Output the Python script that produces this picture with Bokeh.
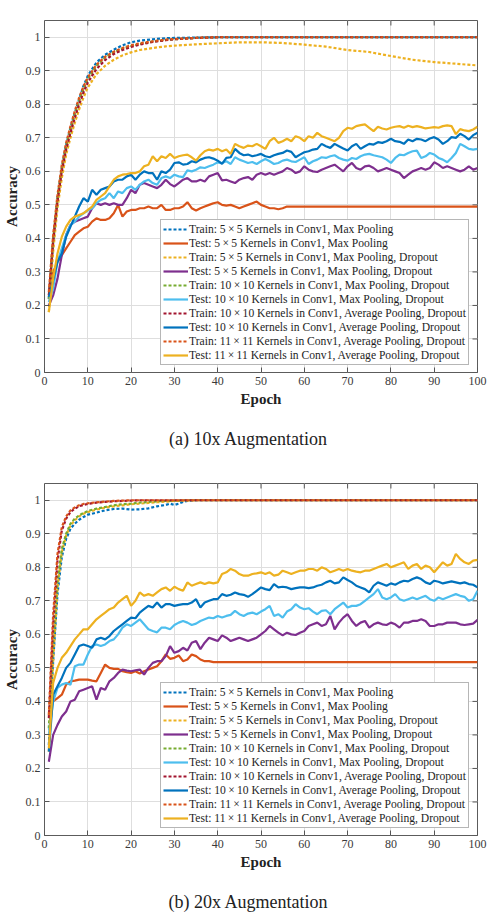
from bokeh.plotting import figure
from bokeh.models import (Range1d, FixedTicker, Legend, LegendItem, Label,
                          CustomJSTickFormatter)
from bokeh.layouts import column
from bokeh.embed import file_html
from bokeh.resources import INLINE

FONT = "Liberation Serif"

# ---- shared series definitions -------------------------------------------
EPOCHS = list(range(1, 101))
X_TICKS = [0, 10, 20, 30, 40, 50, 60, 70, 80, 90, 100]
Y_TICKS = [0, 0.1, 0.2, 0.3, 0.4, 0.5, 0.6, 0.7, 0.8, 0.9, 1]
X_MIN, X_MAX = 0, 100
Y_MIN, Y_MAX = 0, 1.05

TRAIN_LABELS = [
    "Train: 5\u2009\u00d7\u20095 Kernels in Conv1, Max Pooling",
    "Train: 5\u2009\u00d7\u20095 Kernels in Conv1, Max Pooling, Dropout",
    "Train: 10\u2009\u00d7\u200910 Kernels in Conv1, Max Pooling, Dropout",
    "Train: 10\u2009\u00d7\u200910 Kernels in Conv1, Average Pooling, Dropout",
    "Train: 11\u2009\u00d7\u200911 Kernels in Conv1, Average Pooling, Dropout",
]
TEST_LABELS = [
    "Test: 5\u2009\u00d7\u20095 Kernels in Conv1, Max Pooling",
    "Test: 5\u2009\u00d7\u20095 Kernels in Conv1, Max Pooling, Dropout",
    "Test: 10\u2009\u00d7\u200910 Kernels in Conv1, Max Pooling, Dropout",
    "Test: 10\u2009\u00d7\u200910 Kernels in Conv1, Average Pooling, Dropout",
    "Test: 11\u2009\u00d7\u200911 Kernels in Conv1, Average Pooling, Dropout",
]
TRAIN_COLORS = ["#0072BD", "#EDB120", "#77AC30", "#A2142F", "#D95319"]
TEST_COLORS = ["#D95319", "#7E2F8E", "#4DBEEE", "#0072BD", "#EDB120"]
CAPTIONS = ["(a) 10x Augmentation", "(b) 20x Augmentation"]

# ---- (a) 10x augmentation ---------------------------------------------------
TRAIN_EPOCHS_A = [1, 2, 3, 4, 5, 6, 7, 8, 9, 10, 12, 14, 16, 18, 20, 22, 25, 28,
                  30, 35, 40, 45, 50, 55, 60, 65, 70, 75, 80, 85, 90, 95, 100]

A_TRAIN_5MP = [0.22, 0.39, 0.52, 0.61, 0.68, 0.73, 0.775, 0.815, 0.855, 0.885,
               0.925, 0.948, 0.963, 0.976, 0.985, 0.99, 0.994, 0.997, 0.998, 0.999,
               1.0, 1.0, 1.0, 1.0, 1.0, 1.0, 1.0, 1.0, 1.0, 1.0, 1.0, 1.0, 1.0]
A_TRAIN_5MPD = [0.18, 0.36, 0.49, 0.58, 0.65, 0.70, 0.745, 0.785, 0.82, 0.85,
                0.89, 0.915, 0.933, 0.946, 0.955, 0.962, 0.968, 0.973, 0.975, 0.979,
                0.982, 0.985, 0.985, 0.983, 0.978, 0.972, 0.962, 0.956, 0.944, 0.933,
                0.926, 0.921, 0.916]
A_TRAIN_10MPD = [0.22, 0.40, 0.52, 0.61, 0.675, 0.725, 0.77, 0.81, 0.845, 0.875,
                 0.915, 0.94, 0.955, 0.966, 0.974, 0.98, 0.987, 0.992, 0.994, 0.998,
                 1.0, 1.0, 1.0, 1.0, 1.0, 1.0, 1.0, 1.0, 1.0, 1.0, 1.0, 1.0, 1.0]
A_TRAIN_10APD = [0.23, 0.39, 0.51, 0.60, 0.665, 0.715, 0.76, 0.80, 0.835, 0.865,
                 0.905, 0.932, 0.95, 0.962, 0.971, 0.978, 0.986, 0.991, 0.994, 0.998,
                 1.0, 1.0, 1.0, 1.0, 1.0, 1.0, 1.0, 1.0, 1.0, 1.0, 1.0, 1.0, 1.0]
A_TRAIN_11APD = [0.24, 0.41, 0.53, 0.62, 0.685, 0.735, 0.78, 0.82, 0.853, 0.88,
                 0.918, 0.942, 0.957, 0.968, 0.976, 0.982, 0.988, 0.993, 0.995, 0.998,
                 1.0, 1.0, 1.0, 1.0, 1.0, 1.0, 1.0, 1.0, 1.0, 1.0, 1.0, 1.0, 1.0]

A_TEST_5MP = [
    0.23, 0.30, 0.33, 0.35, 0.37, 0.39, 0.41, 0.42, 0.43, 0.435,
    0.45, 0.46, 0.455, 0.455, 0.46, 0.475, 0.50, 0.465, 0.48, 0.485,
    0.485, 0.49, 0.49, 0.495, 0.49, 0.49, 0.50, 0.485, 0.485, 0.49,
    0.49, 0.495, 0.508, 0.49, 0.483, 0.49, 0.495, 0.50, 0.505, 0.508,
    0.50, 0.498, 0.50, 0.495, 0.49, 0.495, 0.50, 0.505, 0.51, 0.50,
    0.495, 0.49, 0.49, 0.487, 0.49, 0.495, 0.495, 0.495, 0.495, 0.495,
    0.495, 0.495, 0.495, 0.495, 0.495, 0.495, 0.495, 0.495, 0.495, 0.495,
    0.495, 0.495, 0.495, 0.495, 0.495, 0.495, 0.495, 0.495, 0.495, 0.495,
    0.495, 0.495, 0.495, 0.495, 0.495, 0.495, 0.495, 0.495, 0.495, 0.495,
    0.495, 0.495, 0.495, 0.495, 0.495, 0.495, 0.495, 0.495, 0.495, 0.495,
]
A_TEST_5MPD = [
    0.20, 0.23, 0.28, 0.35, 0.41, 0.44, 0.45, 0.455, 0.46, 0.465,
    0.49, 0.505, 0.50, 0.505, 0.50, 0.505, 0.50, 0.50, 0.52, 0.545,
    0.535, 0.56, 0.565, 0.56, 0.555, 0.55, 0.56, 0.575, 0.562, 0.555,
    0.565, 0.575, 0.58, 0.57, 0.57, 0.575, 0.57, 0.585, 0.59, 0.595,
    0.573, 0.575, 0.57, 0.565, 0.575, 0.58, 0.583, 0.575, 0.59, 0.595,
    0.59, 0.595, 0.59, 0.595, 0.60, 0.61, 0.605, 0.595, 0.60, 0.615,
    0.605, 0.60, 0.598, 0.605, 0.61, 0.615, 0.62, 0.61, 0.60, 0.615,
    0.625, 0.61, 0.605, 0.615, 0.617, 0.61, 0.60, 0.605, 0.61, 0.605,
    0.60, 0.595, 0.58, 0.59, 0.60, 0.605, 0.61, 0.605, 0.61, 0.627,
    0.62, 0.61, 0.615, 0.61, 0.605, 0.60, 0.605, 0.615, 0.605, 0.61,
]
A_TEST_10MPD = [
    0.21, 0.25, 0.33, 0.37, 0.41, 0.44, 0.45, 0.465, 0.475, 0.483,
    0.49, 0.505, 0.515, 0.52, 0.535, 0.52, 0.54, 0.535, 0.55, 0.555,
    0.545, 0.56, 0.57, 0.575, 0.565, 0.56, 0.58, 0.585, 0.58, 0.59,
    0.585, 0.583, 0.603, 0.60, 0.605, 0.612, 0.61, 0.615, 0.62, 0.627,
    0.625, 0.63, 0.622, 0.642, 0.635, 0.63, 0.625, 0.628, 0.622, 0.63,
    0.637, 0.63, 0.622, 0.625, 0.632, 0.635, 0.63, 0.628, 0.635, 0.642,
    0.622, 0.63, 0.635, 0.642, 0.64, 0.645, 0.648, 0.64, 0.635, 0.632,
    0.64, 0.637, 0.645, 0.65, 0.652, 0.648, 0.645, 0.642, 0.635, 0.625,
    0.64, 0.65, 0.648, 0.655, 0.66, 0.662, 0.64, 0.645, 0.655, 0.65,
    0.64, 0.635, 0.627, 0.64, 0.655, 0.682, 0.675, 0.667, 0.665, 0.667,
]
A_TEST_10APD = [
    0.225, 0.275, 0.33, 0.355, 0.405, 0.435, 0.465, 0.495, 0.52, 0.51,
    0.545, 0.53, 0.545, 0.55, 0.555, 0.57, 0.575, 0.575, 0.585, 0.59,
    0.575, 0.59, 0.60, 0.595, 0.595, 0.575, 0.60, 0.595, 0.605, 0.625,
    0.627, 0.62, 0.622, 0.63, 0.627, 0.635, 0.64, 0.642, 0.638, 0.632,
    0.622, 0.64, 0.642, 0.667, 0.655, 0.648, 0.65, 0.645, 0.648, 0.652,
    0.645, 0.642, 0.648, 0.652, 0.655, 0.662, 0.658, 0.642, 0.65, 0.657,
    0.66, 0.665, 0.667, 0.682, 0.675, 0.67, 0.682, 0.675, 0.668, 0.662,
    0.675, 0.682, 0.667, 0.675, 0.682, 0.68, 0.687, 0.685, 0.69, 0.697,
    0.69, 0.688, 0.682, 0.695, 0.69, 0.697, 0.695, 0.69, 0.698, 0.702,
    0.695, 0.682, 0.69, 0.702, 0.70, 0.712, 0.705, 0.695, 0.708, 0.715,
]
A_TEST_11APD = [
    0.18, 0.28, 0.355, 0.405, 0.435, 0.455, 0.465, 0.47, 0.475, 0.485,
    0.495, 0.515, 0.525, 0.535, 0.555, 0.575, 0.585, 0.59, 0.592, 0.595,
    0.595, 0.60, 0.615, 0.62, 0.645, 0.63, 0.645, 0.64, 0.652, 0.64,
    0.645, 0.648, 0.65, 0.642, 0.632, 0.648, 0.66, 0.665, 0.662, 0.667,
    0.66, 0.665, 0.652, 0.682, 0.675, 0.67, 0.677, 0.675, 0.682, 0.675,
    0.667, 0.69, 0.70, 0.685, 0.69, 0.697, 0.69, 0.705, 0.70, 0.69,
    0.705, 0.70, 0.715, 0.705, 0.70, 0.695, 0.69, 0.70, 0.72, 0.73,
    0.727, 0.735, 0.738, 0.74, 0.73, 0.72, 0.733, 0.728, 0.725, 0.73,
    0.733, 0.735, 0.73, 0.736, 0.732, 0.735, 0.732, 0.728, 0.73, 0.732,
    0.73, 0.735, 0.737, 0.735, 0.711, 0.726, 0.722, 0.72, 0.725, 0.733,
]

# ---- (b) 20x augmentation ---------------------------------------------------
TRAIN_EPOCHS_B = [1, 2, 3, 4, 5, 6, 7, 8, 9, 10, 12, 14, 16, 18, 20, 22, 24, 26,
                  28, 29, 30, 31, 32, 33, 35, 40, 50, 60, 70, 80, 90, 100]

B_TRAIN_5MP = [0.27, 0.52, 0.72, 0.83, 0.885, 0.915, 0.93, 0.942, 0.95, 0.957,
               0.963, 0.97, 0.974, 0.975, 0.972, 0.973, 0.976, 0.982, 0.986, 0.99,
               0.986, 0.99, 0.995, 0.998, 1.0, 1.0, 1.0, 1.0, 1.0, 1.0, 1.0, 1.0]
B_TRAIN_5MPD = [0.25, 0.52, 0.74, 0.845, 0.895, 0.925, 0.94, 0.952, 0.96, 0.965,
                0.972, 0.978, 0.982, 0.985, 0.988, 0.99, 0.992, 0.994, 0.996, 0.997,
                0.998, 0.998, 0.999, 0.999, 1.0, 1.0, 1.0, 1.0, 1.0, 1.0, 1.0, 1.0]
B_TRAIN_10MPD = [0.32, 0.57, 0.76, 0.855, 0.90, 0.93, 0.945, 0.955, 0.962, 0.968,
                 0.975, 0.98, 0.985, 0.988, 0.99, 0.993, 0.995, 0.997, 0.998, 0.998,
                 0.999, 0.999, 1.0, 1.0, 1.0, 1.0, 1.0, 1.0, 1.0, 1.0, 1.0, 1.0]
B_TRAIN_10APD = [0.35, 0.63, 0.82, 0.91, 0.945, 0.965, 0.975, 0.982, 0.986, 0.989,
                 0.993, 0.995, 0.997, 0.998, 0.999, 1.0, 1.0, 1.0, 1.0, 1.0,
                 1.0, 1.0, 1.0, 1.0, 1.0, 1.0, 1.0, 1.0, 1.0, 1.0, 1.0, 1.0]
B_TRAIN_11APD = [0.36, 0.66, 0.84, 0.92, 0.952, 0.97, 0.979, 0.985, 0.989, 0.991,
                 0.994, 0.996, 0.998, 0.999, 1.0, 1.0, 1.0, 1.0, 1.0, 1.0,
                 1.0, 1.0, 1.0, 1.0, 1.0, 1.0, 1.0, 1.0, 1.0, 1.0, 1.0, 1.0]

B_TEST_5MP = [
    0.36, 0.40, 0.41, 0.42, 0.45, 0.46, 0.462, 0.465, 0.465, 0.465,
    0.462, 0.46, 0.485, 0.51, 0.50, 0.497, 0.497, 0.49, 0.487, 0.485,
    0.49, 0.483, 0.49, 0.495, 0.50, 0.505, 0.52, 0.54, 0.527, 0.53,
    0.537, 0.52, 0.525, 0.54, 0.535, 0.525, 0.52, 0.52, 0.517, 0.517,
    0.517, 0.517, 0.517, 0.517, 0.517, 0.517, 0.517, 0.517, 0.517, 0.517,
    0.517, 0.517, 0.517, 0.517, 0.517, 0.517, 0.517, 0.517, 0.517, 0.517,
    0.517, 0.517, 0.517, 0.517, 0.517, 0.517, 0.517, 0.517, 0.517, 0.517,
    0.517, 0.517, 0.517, 0.517, 0.517, 0.517, 0.517, 0.517, 0.517, 0.517,
    0.517, 0.517, 0.517, 0.517, 0.517, 0.517, 0.517, 0.517, 0.517, 0.517,
    0.517, 0.517, 0.517, 0.517, 0.517, 0.517, 0.517, 0.517, 0.517, 0.517,
]
B_TEST_5MPD = [
    0.22, 0.30, 0.33, 0.355, 0.37, 0.40, 0.405, 0.43, 0.435, 0.44,
    0.445, 0.405, 0.44, 0.435, 0.46, 0.47, 0.485, 0.495, 0.492, 0.49,
    0.493, 0.495, 0.48, 0.50, 0.515, 0.52, 0.52, 0.535, 0.565, 0.545,
    0.55, 0.56, 0.552, 0.575, 0.58, 0.556, 0.575, 0.59, 0.585, 0.58,
    0.597, 0.59, 0.58, 0.585, 0.59, 0.585, 0.58, 0.585, 0.59, 0.60,
    0.61, 0.625, 0.615, 0.605, 0.597, 0.605, 0.60, 0.598, 0.605, 0.61,
    0.625, 0.63, 0.635, 0.625, 0.63, 0.655, 0.615, 0.635, 0.65, 0.66,
    0.64, 0.625, 0.635, 0.64, 0.62, 0.63, 0.635, 0.63, 0.628, 0.635,
    0.63, 0.62, 0.635, 0.635, 0.64, 0.64, 0.645, 0.64, 0.625, 0.625,
    0.63, 0.63, 0.635, 0.635, 0.635, 0.63, 0.628, 0.63, 0.632, 0.643,
]
B_TEST_10MPD = [
    0.30, 0.40, 0.44, 0.45, 0.455, 0.45, 0.505, 0.51, 0.51, 0.54,
    0.565, 0.57, 0.565, 0.57, 0.58, 0.585, 0.60, 0.62, 0.63, 0.625,
    0.635, 0.645, 0.63, 0.615, 0.61, 0.606, 0.62, 0.62, 0.615, 0.628,
    0.635, 0.64, 0.635, 0.628, 0.632, 0.64, 0.645, 0.65, 0.648, 0.655,
    0.65, 0.655, 0.658, 0.67, 0.66, 0.655, 0.662, 0.665, 0.66, 0.668,
    0.675, 0.685, 0.655, 0.66, 0.65, 0.668, 0.675, 0.69, 0.68, 0.675,
    0.678, 0.668, 0.66, 0.67, 0.672, 0.66, 0.675, 0.685, 0.695, 0.68,
    0.685, 0.685, 0.69, 0.70, 0.71, 0.72, 0.735, 0.71, 0.705, 0.71,
    0.72, 0.705, 0.70, 0.705, 0.71, 0.705, 0.71, 0.715, 0.705, 0.70,
    0.71, 0.705, 0.71, 0.715, 0.72, 0.715, 0.712, 0.70, 0.705, 0.73,
]
B_TEST_10APD = [
    0.25, 0.42, 0.445, 0.47, 0.50, 0.515, 0.54, 0.565, 0.57, 0.565,
    0.56, 0.585, 0.59, 0.585, 0.595, 0.61, 0.62, 0.63, 0.64, 0.65,
    0.648, 0.665, 0.675, 0.685, 0.68, 0.695, 0.68, 0.69, 0.69, 0.685,
    0.688, 0.69, 0.69, 0.695, 0.705, 0.68, 0.695, 0.70, 0.705, 0.705,
    0.72, 0.715, 0.718, 0.725, 0.72, 0.718, 0.712, 0.72, 0.73, 0.74,
    0.735, 0.732, 0.75, 0.74, 0.742, 0.74, 0.735, 0.738, 0.74, 0.74,
    0.738, 0.74, 0.745, 0.748, 0.755, 0.76, 0.752, 0.755, 0.77, 0.762,
    0.755, 0.745, 0.74, 0.735, 0.725, 0.745, 0.755, 0.75, 0.745, 0.752,
    0.748, 0.755, 0.76, 0.758, 0.765, 0.77, 0.765, 0.755, 0.75, 0.76,
    0.757, 0.752, 0.755, 0.758, 0.755, 0.752, 0.755, 0.75, 0.748, 0.74,
]
B_TEST_11APD = [
    0.26, 0.455, 0.50, 0.53, 0.545, 0.565, 0.585, 0.60, 0.615, 0.615,
    0.63, 0.645, 0.655, 0.665, 0.675, 0.68, 0.695, 0.705, 0.715, 0.685,
    0.70, 0.725, 0.715, 0.72, 0.715, 0.725, 0.735, 0.74, 0.73, 0.742,
    0.735, 0.73, 0.755, 0.745, 0.75, 0.755, 0.75, 0.755, 0.752, 0.755,
    0.78, 0.785, 0.795, 0.79, 0.78, 0.775, 0.775, 0.78, 0.782, 0.785,
    0.78, 0.785, 0.775, 0.778, 0.79, 0.785, 0.78, 0.785, 0.79, 0.79,
    0.795, 0.795, 0.79, 0.80, 0.795, 0.785, 0.79, 0.795, 0.79, 0.795,
    0.79, 0.787, 0.785, 0.79, 0.79, 0.795, 0.80, 0.805, 0.81, 0.80,
    0.805, 0.81, 0.815, 0.795, 0.805, 0.81, 0.795, 0.805, 0.80, 0.785,
    0.80, 0.815, 0.805, 0.81, 0.84, 0.825, 0.815, 0.81, 0.82, 0.822,
]

FRAME_W, FRAME_H = 433, 352
TICK_PX = 5
TICK_COLOR = "#555555"
PAGE_W = 487


def style_axis(ax):
    ax.major_tick_in = TICK_PX
    ax.major_tick_out = 0
    ax.minor_tick_line_color = None
    ax.major_tick_line_color = TICK_COLOR
    ax.axis_line_color = None
    ax.major_label_text_font = FONT
    ax.major_label_text_color = "#3a3a3a"
    ax.major_label_text_font_size = "12px"
    ax.major_label_standoff = 4
    ax.axis_label_text_font = FONT
    ax.axis_label_text_font_style = "bold"
    ax.axis_label_text_font_size = "15px"
    ax.axis_label_text_color = "#222222"
    ax.axis_label_standoff = 3


def build_panel(train_epochs, trains, tests, border_top):
    p = figure(frame_width=FRAME_W, frame_height=FRAME_H,
               x_range=Range1d(X_MIN, X_MAX), y_range=Range1d(Y_MIN, Y_MAX),
               output_backend="svg", toolbar_location=None,
               min_border_left=41, min_border_right=13,
               min_border_top=border_top, min_border_bottom=40,
               background_fill_color="white", border_fill_color="white",
               outline_line_color="#5c5c5c", outline_line_width=1)

    p.xaxis.ticker = FixedTicker(ticks=X_TICKS)
    p.yaxis.ticker = FixedTicker(ticks=Y_TICKS)
    p.yaxis.formatter = CustomJSTickFormatter(
        code="return String(Math.round(tick * 10) / 10);")
    p.xaxis.axis_label = "Epoch"
    p.yaxis.axis_label = "Accuracy"
    style_axis(p.xaxis[0])
    style_axis(p.yaxis[0])

    p.xgrid.ticker = FixedTicker(ticks=X_TICKS)
    p.ygrid.ticker = FixedTicker(ticks=Y_TICKS)
    p.grid.grid_line_color = "#dedede"
    p.grid.grid_line_width = 1

    # inward tick marks on the top and right edges of the box
    dy = TICK_PX * (Y_MAX - Y_MIN) / FRAME_H
    dx = TICK_PX * (X_MAX - X_MIN) / FRAME_W
    p.segment(x0=X_TICKS, y0=[Y_MAX] * len(X_TICKS),
              x1=X_TICKS, y1=[Y_MAX - dy] * len(X_TICKS),
              line_color=TICK_COLOR, line_width=1)
    p.segment(x0=[X_MAX] * len(Y_TICKS), y0=Y_TICKS,
              x1=[X_MAX - dx] * len(Y_TICKS), y1=Y_TICKS,
              line_color=TICK_COLOR, line_width=1)

    items = []
    for k in range(5):
        r_train = p.line(train_epochs, trains[k], line_color=TRAIN_COLORS[k],
                         line_width=2.2, line_dash="3 2")
        r_test = p.line(EPOCHS, tests[k], line_color=TEST_COLORS[k], line_width=2.2)
        items.append(LegendItem(label=TRAIN_LABELS[k], renderers=[r_train]))
        items.append(LegendItem(label=TEST_LABELS[k], renderers=[r_test]))

    legend = Legend(items=items, location=(116, 7),
                    label_text_font=FONT, label_text_font_size="11.6px",
                    label_text_color="#1e1e1e",
                    glyph_width=25, glyph_height=14, label_height=14,
                    label_standoff=1, spacing=0, padding=2, margin=0,
                    border_line_color="#6e6e6e", border_line_width=1,
                    background_fill_color="white", background_fill_alpha=1)
    p.add_layout(legend)
    return p


def build_caption(text, height, center_from_bottom):
    c = figure(width=PAGE_W, height=height, x_range=Range1d(0, 1),
               y_range=Range1d(0, 1), output_backend="svg",
               toolbar_location=None, x_axis_location=None,
               y_axis_location=None, min_border=0, outline_line_color=None,
               background_fill_color="white", border_fill_color="white")
    c.grid.visible = False
    c.add_layout(Label(x=204, y=center_from_bottom, x_units="screen",
                       y_units="screen", text=text, text_align="center",
                       text_baseline="middle", text_font=FONT,
                       text_font_size="18px", text_color="#222222"))
    return c


for arr in (A_TRAIN_5MP, A_TRAIN_5MPD, A_TRAIN_10MPD, A_TRAIN_10APD, A_TRAIN_11APD):
    assert len(arr) == len(TRAIN_EPOCHS_A)
for arr in (B_TRAIN_5MP, B_TRAIN_5MPD, B_TRAIN_10MPD, B_TRAIN_10APD, B_TRAIN_11APD):
    assert len(arr) == len(TRAIN_EPOCHS_B)
for arr in (A_TEST_5MP, A_TEST_5MPD, A_TEST_10MPD, A_TEST_10APD, A_TEST_11APD,
            B_TEST_5MP, B_TEST_5MPD, B_TEST_10MPD, B_TEST_10APD, B_TEST_11APD):
    assert len(arr) == len(EPOCHS)

p_a = build_panel(TRAIN_EPOCHS_A,
                  [A_TRAIN_5MP, A_TRAIN_5MPD, A_TRAIN_10MPD, A_TRAIN_10APD, A_TRAIN_11APD],
                  [A_TEST_5MP, A_TEST_5MPD, A_TEST_10MPD, A_TEST_10APD, A_TEST_11APD],
                  20)
cap_a = build_caption(CAPTIONS[0], 65, 39)
p_b = build_panel(TRAIN_EPOCHS_B,
                  [B_TRAIN_5MP, B_TRAIN_5MPD, B_TRAIN_10MPD, B_TRAIN_10APD, B_TRAIN_11APD],
                  [B_TEST_5MP, B_TEST_5MPD, B_TEST_10MPD, B_TEST_10APD, B_TEST_11APD],
                  6)
cap_b = build_caption(CAPTIONS[1], 37, 11)

layout = column(p_a, cap_a, p_b, cap_b, spacing=0)
open("out.html", "w").write(file_html(layout, INLINE))
